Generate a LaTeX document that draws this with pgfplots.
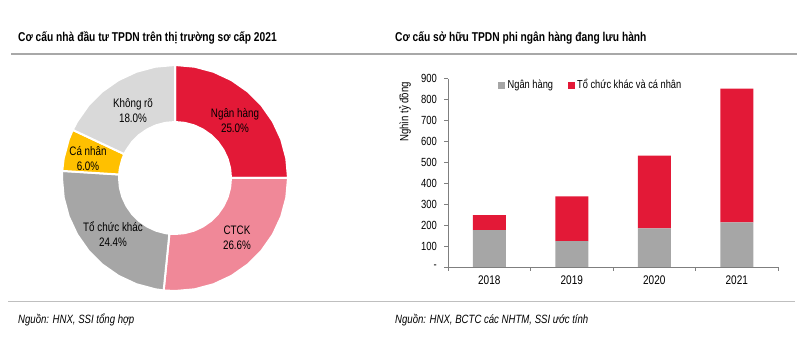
\documentclass[border=0pt]{standalone}
\usepackage{pgfplots}
\pgfplotsset{compat=1.18}
\usepackage{fontspec}
\setmainfont{Liberation Sans}[FakeStretch=0.8]
\definecolor{cred}{HTML}{E31937}
\definecolor{cpink}{HTML}{F08898}
\definecolor{cgrey}{HTML}{A6A6A6}
\definecolor{cyel}{HTML}{FFC000}
\definecolor{clgrey}{HTML}{D9D9D9}
\definecolor{caxis}{HTML}{7F7F7F}
\definecolor{cline}{HTML}{BFBFBF}
\definecolor{ctopline}{HTML}{A8A8A8}
\begin{document}
\fontsize{12pt}{14pt}\selectfont
\begin{tikzpicture}
\path[use as bounding box] (0pt,0pt) rectangle (800pt,356pt);
% rules
\draw[ctopline, line width=1.6pt] (11pt,302pt) -- (797pt,302pt);
\draw[cline, line width=1.5pt] (8pt,54.5pt) -- (795pt,54.5pt);
% titles and footnotes
\node[anchor=west, inner sep=0pt, font=\bfseries\fontsize{12.8pt}{14pt}\selectfont] at (18pt,318pt) {Cơ cấu nhà đầu tư TPDN trên thị trường sơ cấp 2021};
\node[anchor=west, inner sep=0pt, font=\bfseries\fontsize{12.8pt}{14pt}\selectfont] at (395pt,318pt) {Cơ cấu sở hữu TPDN phi ngân hàng đang lưu hành};
\node[anchor=west, inner sep=0pt, font=\itshape\fontsize{12pt}{14pt}\selectfont] at (18pt,36pt) {Nguồn: HNX, SSI tổng hợp};
\node[anchor=west, inner sep=0pt, font=\itshape\fontsize{12pt}{14pt}\selectfont] at (395pt,36pt) {Nguồn: HNX, BCTC các NHTM, SSI ước tính};

% donut
\begin{axis}[at={(175pt,178pt)}, anchor=center, width=224pt, height=224pt,
  scale only axis, xmin=-1, xmax=1, ymin=-1, ymax=1, hide axis, clip=false]
\addplot[fill=cred, draw=white, line width=2pt, mark=none, data cs=polar] coordinates {
 (90,1.009)(80,1.009)(70,1.009)(60,1.009)(50,1.009)(40,1.009)(30,1.009)(20,1.009)(10,1.009)(0,1.009)
 (0,0.5)(10,0.5)(20,0.5)(30,0.5)(40,0.5)(50,0.5)(60,0.5)(70,0.5)(80,0.5)(90,0.5)} -- cycle;
\addplot[fill=cpink, draw=white, line width=2pt, mark=none, data cs=polar] coordinates {
 (0,1.009)(-10,1.009)(-20,1.009)(-30,1.009)(-40,1.009)(-50,1.009)(-60,1.009)(-70,1.009)(-80,1.009)(-90,1.009)(-95.76,1.009)
 (-95.76,0.5)(-90,0.5)(-80,0.5)(-70,0.5)(-60,0.5)(-50,0.5)(-40,0.5)(-30,0.5)(-20,0.5)(-10,0.5)(0,0.5)} -- cycle;
\addplot[fill=cgrey, draw=white, line width=2pt, mark=none, data cs=polar] coordinates {
 (-95.76,1.009)(-100,1.009)(-110,1.009)(-120,1.009)(-130,1.009)(-140,1.009)(-150,1.009)(-160,1.009)(-170,1.009)(-180,1.009)(-183.6,1.009)
 (-183.6,0.5)(-180,0.5)(-170,0.5)(-160,0.5)(-150,0.5)(-140,0.5)(-130,0.5)(-120,0.5)(-110,0.5)(-100,0.5)(-95.76,0.5)} -- cycle;
\addplot[fill=cyel, draw=white, line width=2pt, mark=none, data cs=polar] coordinates {
 (-183.6,1.009)(-190,1.009)(-200,1.009)(-205.2,1.009)
 (-205.2,0.5)(-200,0.5)(-190,0.5)(-183.6,0.5)} -- cycle;
\addplot[fill=clgrey, draw=white, line width=2pt, mark=none, data cs=polar] coordinates {
 (-205.2,1.009)(-210,1.009)(-220,1.009)(-230,1.009)(-240,1.009)(-250,1.009)(-260,1.009)(-270,1.009)
 (-270,0.5)(-260,0.5)(-250,0.5)(-240,0.5)(-230,0.5)(-220,0.5)(-210,0.5)(-205.2,0.5)} -- cycle;
\end{axis}
\begin{scope}[every node/.style={align=center, inner sep=0pt, font=\fontsize{12.3pt}{15pt}\selectfont}]
\node at (235pt,235.5pt) {Ngân hàng\\25.0\%};
\node at (237pt,118.5pt) {CTCK\\26.6\%};
\node at (113pt,121.5pt) {Tổ chức khác\\24.4\%};
\node at (88pt,197.5pt) {Cá nhân\\6.0\%};
\node at (133pt,245.5pt) {Không rõ\\18.0\%};
\end{scope}

% stacked bars
\begin{axis}[at={(448pt,89pt)}, anchor=south west, width=330pt, height=188.4pt,
  scale only axis, ybar stacked, bar width=33pt,
  xmin=-0.5, xmax=3.5, ymin=0, ymax=900,
  axis x line*=bottom, axis y line*=left,
  axis line style={caxis, line width=0.8pt, -},
  tick style={caxis, line width=0.8pt},
  tick align=outside, major tick length=4pt, minor tick length=4pt,
  xtick={0,1,2,3}, xticklabels={2018,2019,2020,2021},
  major x tick style={draw=none},
  minor xtick={-0.5,0.5,1.5,2.5,3.5},
  ytick={0,100,200,300,400,500,600,700,800,900},
  yticklabels={-\hspace{8pt},100,200,300,400,500,600,700,800,900},
  yticklabel style={font=\fontsize{11.8pt}{13pt}\selectfont, inner sep=0pt, xshift=-7pt},
  xticklabel style={font=\fontsize{12.5pt}{14pt}\selectfont, inner sep=0pt, yshift=-5pt},
  ylabel={Nghìn tỷ đồng},
  ylabel style={at={(axis description cs:-0.13,0.823)}, anchor=center, font=\fontsize{12pt}{14pt}\selectfont},
  legend columns=2,
  legend style={at={(0.1515,0.966)}, anchor=west, draw=none, fill=none, inner sep=0pt,
    font=\fontsize{11.6pt}{14pt}\selectfont,
    /tikz/every even column/.append style={column sep=12pt},
    nodes={inner sep=2.5pt}},
  legend image code/.code={\fill[#1] (0pt,-3.5pt) rectangle (7pt,3.5pt);},
  clip=false]
\addplot[fill=cgrey, draw=none] coordinates {(0,176) (1,124) (2,184) (3,213)};
\addplot[fill=cred, draw=none] coordinates {(0,72) (1,213) (2,348) (3,639)};
\legend{Ngân hàng, Tổ chức khác và cá nhân}
\end{axis}
\end{tikzpicture}
\end{document}
